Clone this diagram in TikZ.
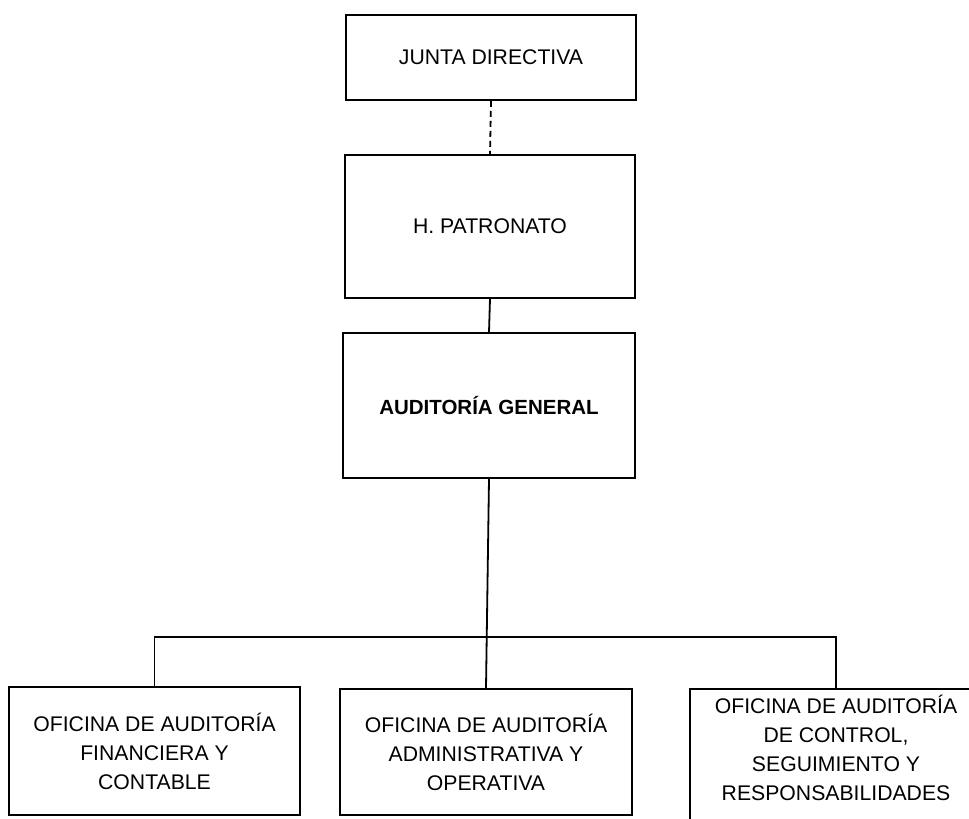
\documentclass[tikz,border=0pt]{standalone}
\usepackage{fontspec}
\setmainfont{Liberation Sans}
\begin{document}
\begin{tikzpicture}[x=1pt,y=-1pt,
  unit/.style={draw=black, line width=1.8pt, align=center, inner sep=2pt,
    font=\fontsize{21.2}{29}\selectfont},
  link/.style={line width=1.8pt, black}]
\useasboundingbox (0,0) rectangle (969,819);
\clip (0,0) rectangle (969,819);

% top chain
\node[unit, minimum width=290, minimum height=85] (junta) at (491,57.5) {JUNTA DIRECTIVA};
\node[unit, minimum width=290, minimum height=143] (patr) at (490,226.5) {H. PATRONATO};
\node[unit, minimum width=292, minimum height=145, font=\fontsize{20.5}{29}\selectfont\bfseries] (aud) at (489,405.5) {AUDITORÍA GENERAL};

% offices
\node[unit, minimum width=291, minimum height=128] (ofin) at (154.5,751)
  {OFICINA DE AUDITORÍA\\FINANCIERA Y\\CONTABLE};
\node[unit, minimum width=292, minimum height=126] (oadm) at (486,752)
  {OFICINA DE AUDITORÍA\\ADMINISTRATIVA Y\\OPERATIVA};
\node[unit, minimum width=292, minimum height=136] (octl) at (836,757)
  {OFICINA DE AUDITORÍA\\DE CONTROL,\\SEGUIMIENTO Y\\RESPONSABILIDADES\rule[-18pt]{0pt}{18pt}};

% connectors
\draw[link, dash pattern=on 6pt off 4pt] (junta.south) -- (patr.north);
\draw[link] (patr.south) -- (aud.north);
\draw[link] (aud.south) -- (oadm.north);
\coordinate (bus) at (0,637);
\draw[link] (ofin.north) -- (ofin.north |- bus) -- (octl.north |- bus) -- (octl.north);
\end{tikzpicture}
\end{document}
